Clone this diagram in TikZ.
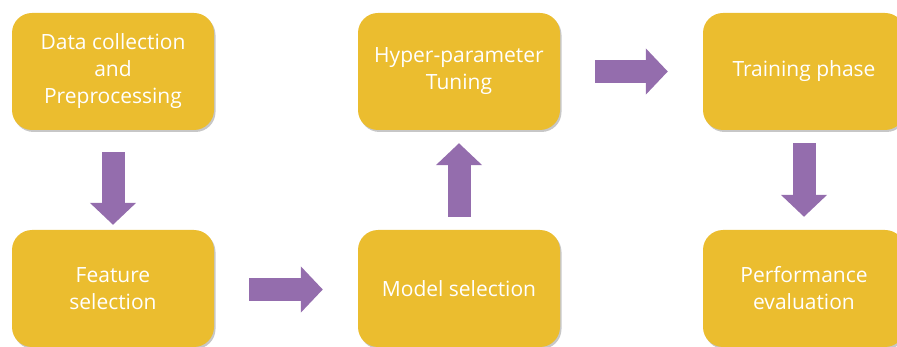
\documentclass[tikz,border=0pt]{standalone}
\usepackage{fontspec}
\setmainfont{Open Sans}
\usetikzlibrary{arrows.meta,shadows,calc}
\definecolor{boxfill}{HTML}{EBBD2F}
\definecolor{arrowfill}{HTML}{946DAD}
\begin{document}
\begin{tikzpicture}[x=1pt,y=-1pt,
  stagebox/.style={draw=none, fill=boxfill, rounded corners=20pt,
    minimum width=202pt, minimum height=117pt, text=white, align=center,
    font=\fontsize{21}{27}\selectfont, inner sep=0pt,
    drop shadow={shadow xshift=1.5pt, shadow yshift=-2pt, fill=black, opacity=0.22}},
  flow/.style={line width=23pt, draw=arrowfill, line cap=butt,
    -{Triangle[length=22pt,width=45pt]}}]
\useasboundingbox (0,0) rectangle (897,347);
\clip (0,0) rectangle (897,347);

\node[stagebox] (data)  at (113,71.5)  {Data collection\\and\\Preprocessing};
\node[stagebox] (feat)  at (113,288.5) {Feature\\selection};
\node[stagebox] (model) at (459,288.5) {Model selection};
\node[stagebox] (hyper) at (459,71.5)  {Hyper-parameter\\Tuning};
\node[stagebox] (train) at (804,71.5)  {Training phase};
\node[stagebox] (perf)  at (804,288.5) {Performance\\evaluation};

\coordinate (a1s) at ([yshift=-22pt]data.south);
\coordinate (a1e) at ([yshift=5pt]feat.north);
\coordinate (a2s) at ([xshift=35pt,yshift=-1pt]feat.east);
\coordinate (a2e) at ([xshift=-35pt,yshift=-1pt]model.west);
\coordinate (a3s) at ([yshift=13pt]model.north);
\coordinate (a3e) at ([yshift=-13pt]hyper.south);
\coordinate (a4s) at ([xshift=35pt]hyper.east);
\coordinate (a4e) at ([xshift=-35pt]train.west);
\coordinate (a5s) at ([yshift=-13pt]train.south);
\coordinate (a5e) at ([yshift=13pt]perf.north);

\draw[flow] (a1s) -- (a1e);
\draw[flow] (a2s) -- (a2e);
\draw[flow] (a3s) -- (a3e);
\draw[flow] (a4s) -- (a4e);
\draw[flow] (a5s) -- (a5e);
\end{tikzpicture}
\end{document}
